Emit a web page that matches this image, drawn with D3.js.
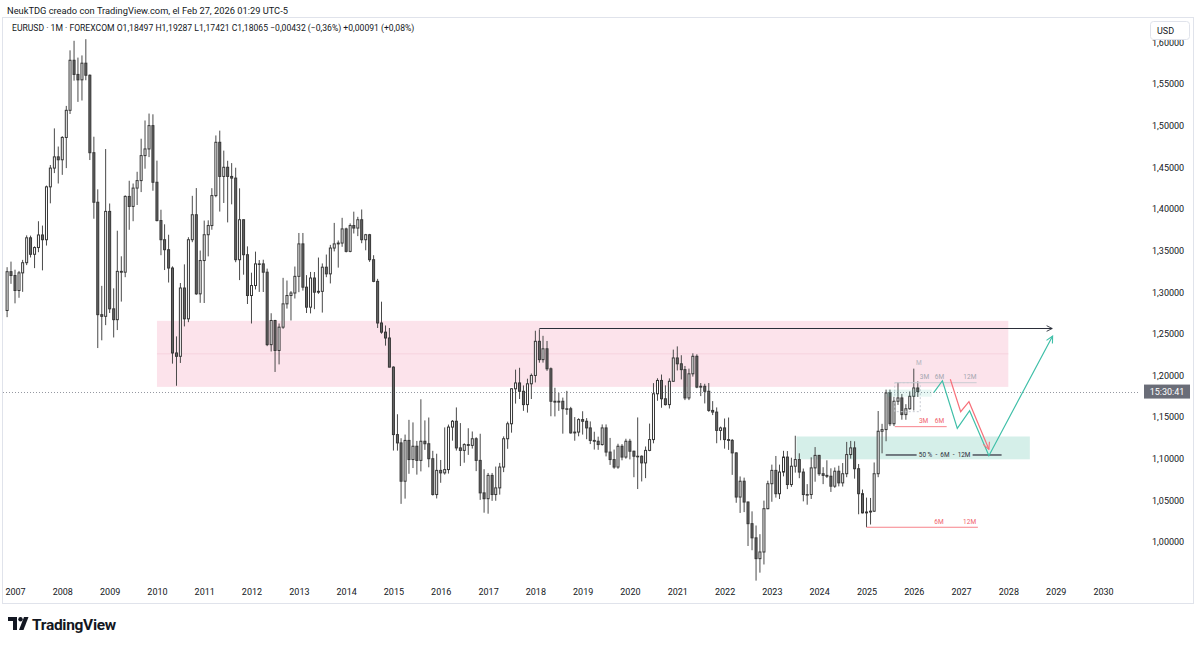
<!DOCTYPE html>
<html>
<head>
<meta charset="utf-8">
<script src="https://cdn.jsdelivr.net/npm/d3@7"></script>
<style>
  body { margin: 0; background: #fff; }
  svg { display: block; font-family: Roboto, "Liberation Sans", sans-serif; }
</style>
</head>
<body>
<script>
// EURUSD mensual, primera vela = nov 2006
var primerMes = [2006, 10]

var opens = [
  1.2780, 1.3246,
  1.3200, 1.3020, 1.3232, 1.3354, 1.3653, 1.3455, 1.3536, 1.3687, 1.3630, 1.4265, 1.4490, 1.4625,
  1.4590, 1.4858, 1.5184, 1.5785, 1.5615, 1.5550, 1.5750, 1.5605, 1.4675, 1.4080, 1.2730, 1.2710,
  1.3970, 1.2800, 1.2670, 1.3250, 1.3240, 1.4150, 1.4030, 1.4250, 1.4340, 1.4640, 1.4720, 1.5000,
  1.4320, 1.3860, 1.3630, 1.3510, 1.3290, 1.2270, 1.2230, 1.3050, 1.2680, 1.3630, 1.3930, 1.2980,
  1.3380, 1.3690, 1.3800, 1.4160, 1.4800, 1.4390, 1.4500, 1.4390, 1.4370, 1.3390, 1.3870, 1.3450,
  1.2960, 1.3080, 1.3340, 1.3340, 1.3240, 1.2370, 1.2660, 1.2300, 1.2580, 1.2860, 1.2960, 1.2990,
  1.3190, 1.3580, 1.3060, 1.2820, 1.3170, 1.3000, 1.3010, 1.3300, 1.3220, 1.3530, 1.3580, 1.3590,
  1.3760, 1.3490, 1.3800, 1.3770, 1.3870, 1.3630, 1.3690, 1.3390, 1.3130, 1.2630, 1.2520, 1.2450,
  1.2100, 1.1290, 1.1190, 1.0730, 1.1220, 1.0990, 1.1150, 1.0980, 1.1210, 1.1180, 1.1000, 1.0570,
  1.0860, 1.0830, 1.0870, 1.1380, 1.1450, 1.1130, 1.1100, 1.1170, 1.1160, 1.1240, 1.0980, 1.0590,
  1.0520, 1.0800, 1.0570, 1.0650, 1.0900, 1.1240, 1.1420, 1.1840, 1.1910, 1.1810, 1.1650, 1.1900,
  1.2000, 1.2410, 1.2190, 1.2320, 1.2080, 1.1690, 1.1680, 1.1690, 1.1600, 1.1600, 1.1310, 1.1320,
  1.1470, 1.1450, 1.1370, 1.1220, 1.1210, 1.1170, 1.1370, 1.1080, 1.0990, 1.0900, 1.1150, 1.1020,
  1.1210, 1.1090, 1.1030, 1.1030, 1.0950, 1.1100, 1.1230, 1.1780, 1.1940, 1.1720, 1.1650, 1.1930,
  1.2210, 1.2140, 1.2070, 1.1730, 1.2020, 1.2230, 1.1860, 1.1870, 1.1810, 1.1580, 1.1560, 1.1340,
  1.1370, 1.1230, 1.1220, 1.1070, 1.0540, 1.0730, 1.0480, 1.0220, 1.0050, 0.9800, 0.9880, 1.0400,
  1.0700, 1.0860, 1.0580, 1.0840, 1.1020, 1.0690, 1.0910, 1.0990, 1.0840, 1.0570, 1.0570, 1.0890,
  1.1040, 1.0820, 1.0800, 1.0790, 1.0670, 1.0850, 1.0710, 1.0820, 1.1050, 1.1130, 1.0880, 1.0580,
  1.0350, 1.0360, 1.0370, 1.0820, 1.1330, 1.1350, 1.1790, 1.1420, 1.1690, 1.1730, 1.1530, 1.1600,
  1.1750, 1.18497
]
var highs = [
  1.3300, 1.3367,
  1.3270, 1.3255, 1.3388, 1.3682, 1.3679, 1.3550, 1.3852, 1.3800, 1.4280, 1.4527, 1.4967, 1.4749,
  1.4874, 1.5237, 1.5904, 1.6019, 1.5817, 1.5843, 1.6038, 1.5615, 1.4867, 1.4235, 1.3076, 1.4719,
  1.4065, 1.3046, 1.3738, 1.3431, 1.4163, 1.4338, 1.4305, 1.4446, 1.4843, 1.5062, 1.5145, 1.5136,
  1.4580, 1.3990, 1.3815, 1.3690, 1.3310, 1.2469, 1.3110, 1.3334, 1.3660, 1.4157, 1.4250, 1.3500,
  1.3860, 1.3863, 1.4249, 1.4882, 1.4940, 1.4700, 1.4578, 1.4550, 1.4495, 1.4247, 1.3873, 1.3550,
  1.3234, 1.3487, 1.3386, 1.3390, 1.3283, 1.2747, 1.2668, 1.2624, 1.3172, 1.3140, 1.3013, 1.3308,
  1.3711, 1.3711, 1.3205, 1.3243, 1.3242, 1.3416, 1.3345, 1.3452, 1.3568, 1.3832, 1.3621, 1.3893,
  1.3775, 1.3826, 1.3967, 1.3905, 1.3993, 1.3700, 1.3700, 1.3444, 1.3160, 1.2886, 1.2600, 1.2570,
  1.2110, 1.1534, 1.1246, 1.1290, 1.1467, 1.1436, 1.1214, 1.1714, 1.1460, 1.1495, 1.1095, 1.1060,
  1.0985, 1.1376, 1.1410, 1.1464, 1.1616, 1.1428, 1.1186, 1.1366, 1.1327, 1.1258, 1.1300, 1.0874,
  1.0829, 1.0829, 1.0906, 1.0950, 1.1268, 1.1445, 1.1847, 1.2070, 1.2092, 1.1880, 1.1961, 1.2023,
  1.2537, 1.2555, 1.2476, 1.2414, 1.2096, 1.1852, 1.1791, 1.1734, 1.1815, 1.1623, 1.1500, 1.1486,
  1.1570, 1.1488, 1.1448, 1.1324, 1.1265, 1.1412, 1.1412, 1.1250, 1.1110, 1.1180, 1.1176, 1.1240,
  1.1239, 1.1097, 1.1496, 1.1040, 1.1147, 1.1422, 1.1908, 1.1966, 1.2011, 1.1881, 1.1965, 1.2310,
  1.2349, 1.2243, 1.2114, 1.2082, 1.2266, 1.2254, 1.1909, 1.1900, 1.1909, 1.1692, 1.1616, 1.1386,
  1.1483, 1.1495, 1.1237, 1.1076, 1.0787, 1.0773, 1.0486, 1.0368, 1.0198, 1.0094, 1.0497, 1.0736,
  1.0929, 1.1033, 1.0929, 1.1095, 1.1092, 1.1012, 1.1276, 1.1065, 1.0882, 1.0695, 1.1017, 1.1140,
  1.1046, 1.0898, 1.0981, 1.0885, 1.0895, 1.0916, 1.0948, 1.1202, 1.1214, 1.1209, 1.0937, 1.0630,
  1.0533, 1.0529, 1.0955, 1.1573, 1.1419, 1.1830, 1.1830, 1.1743, 1.1919, 1.1778, 1.1655, 1.1808,
  1.2082, 1.19287
]
var lows = [
  1.2700, 1.3100,
  1.2866, 1.2933, 1.3004, 1.3325, 1.3417, 1.3289, 1.3480, 1.3262, 1.3560, 1.4067, 1.4430, 1.4305,
  1.4409, 1.4490, 1.5140, 1.5540, 1.5285, 1.5302, 1.5545, 1.4587, 1.3882, 1.2329, 1.2422, 1.2604,
  1.2750, 1.2456, 1.2545, 1.2887, 1.3180, 1.3749, 1.3852, 1.4047, 1.4202, 1.4483, 1.4622, 1.4218,
  1.3850, 1.3444, 1.3266, 1.3116, 1.2142, 1.1876, 1.2150, 1.2589, 1.2640, 1.3600, 1.2968, 1.2872,
  1.2870, 1.3430, 1.3750, 1.4140, 1.3968, 1.4071, 1.3838, 1.4055, 1.3360, 1.3145, 1.3210, 1.2858,
  1.2624, 1.3033, 1.3003, 1.3002, 1.2352, 1.2288, 1.2042, 1.2133, 1.2560, 1.2803, 1.2660, 1.2924,
  1.3000, 1.3019, 1.2750, 1.2745, 1.2796, 1.2980, 1.2755, 1.3180, 1.3105, 1.3490, 1.3295, 1.3545,
  1.3477, 1.3479, 1.3705, 1.3673, 1.3588, 1.3503, 1.3364, 1.3120, 1.2570, 1.2501, 1.2358, 1.2098,
  1.1098, 1.1097, 1.0458, 1.0521, 1.0819, 1.0888, 1.0809, 1.0848, 1.1106, 1.0897, 1.0558, 1.0523,
  1.0711, 1.0809, 1.0822, 1.1217, 1.1098, 1.0912, 1.0952, 1.1046, 1.1122, 1.0851, 1.0506, 1.0352,
  1.0340, 1.0494, 1.0495, 1.0569, 1.0839, 1.1119, 1.1313, 1.1662, 1.1717, 1.1575, 1.1554, 1.1717,
  1.1916, 1.2153, 1.2154, 1.2055, 1.1510, 1.1508, 1.1575, 1.1301, 1.1528, 1.1302, 1.1216, 1.1269,
  1.1290, 1.1234, 1.1176, 1.1110, 1.1107, 1.1158, 1.1028, 1.0926, 1.0879, 1.0879, 1.0981, 1.1000,
  1.0992, 1.0778, 1.0636, 1.0727, 1.0767, 1.1090, 1.1185, 1.1696, 1.1612, 1.1639, 1.1603, 1.1925,
  1.2060, 1.1952, 1.1704, 1.1704, 1.1986, 1.1847, 1.1752, 1.1664, 1.1563, 1.1524, 1.1186, 1.1222,
  1.1121, 1.1106, 1.0806, 1.0471, 1.0349, 1.0359, 0.9952, 0.9901, 0.9536, 0.9632, 0.9730, 1.0393,
  1.0483, 1.0533, 1.0516, 1.0788, 1.0635, 1.0662, 1.0833, 1.0766, 1.0488, 1.0448, 1.0517, 1.0724,
  1.0795, 1.0695, 1.0768, 1.0601, 1.0650, 1.0668, 1.0666, 1.0778, 1.1001, 1.0761, 1.0333, 1.0343,
  1.0178, 1.0210, 1.0360, 1.0778, 1.1065, 1.1210, 1.1392, 1.1392, 1.1646, 1.1469, 1.1468, 1.1589,
  1.1580, 1.17421
]
var closes = [
  1.3246, 1.3200,
  1.3020, 1.3232, 1.3354, 1.3653, 1.3455, 1.3536, 1.3687, 1.3630, 1.4265, 1.4490, 1.4625, 1.4590,
  1.4858, 1.5184, 1.5785, 1.5615, 1.5550, 1.5750, 1.5605, 1.4675, 1.4080, 1.2730, 1.2710, 1.3970,
  1.2800, 1.2670, 1.3250, 1.3240, 1.4150, 1.4030, 1.4250, 1.4340, 1.4640, 1.4720, 1.5000, 1.4320,
  1.3860, 1.3630, 1.3510, 1.3290, 1.2270, 1.2230, 1.3050, 1.2680, 1.3630, 1.3930, 1.2980, 1.3380,
  1.3690, 1.3800, 1.4160, 1.4800, 1.4390, 1.4500, 1.4390, 1.4370, 1.3390, 1.3870, 1.3450, 1.2960,
  1.3080, 1.3340, 1.3340, 1.3240, 1.2370, 1.2660, 1.2300, 1.2580, 1.2860, 1.2960, 1.2990, 1.3190,
  1.3580, 1.3060, 1.2820, 1.3170, 1.3000, 1.3010, 1.3300, 1.3220, 1.3530, 1.3580, 1.3590, 1.3760,
  1.3490, 1.3800, 1.3770, 1.3870, 1.3630, 1.3690, 1.3390, 1.3130, 1.2630, 1.2520, 1.2450, 1.2100,
  1.1290, 1.1190, 1.0730, 1.1220, 1.0990, 1.1150, 1.0980, 1.1210, 1.1180, 1.1000, 1.0570, 1.0860,
  1.0830, 1.0870, 1.1380, 1.1450, 1.1130, 1.1100, 1.1170, 1.1160, 1.1240, 1.0980, 1.0590, 1.0520,
  1.0800, 1.0570, 1.0650, 1.0900, 1.1240, 1.1420, 1.1840, 1.1910, 1.1810, 1.1650, 1.1900, 1.2000,
  1.2410, 1.2190, 1.2320, 1.2080, 1.1690, 1.1680, 1.1690, 1.1600, 1.1600, 1.1310, 1.1320, 1.1470,
  1.1450, 1.1370, 1.1220, 1.1210, 1.1170, 1.1370, 1.1080, 1.0990, 1.0900, 1.1150, 1.1020, 1.1210,
  1.1090, 1.1030, 1.1030, 1.0950, 1.1100, 1.1230, 1.1780, 1.1940, 1.1720, 1.1650, 1.1930, 1.2210,
  1.2140, 1.2070, 1.1730, 1.2020, 1.2230, 1.1860, 1.1870, 1.1810, 1.1580, 1.1560, 1.1340, 1.1370,
  1.1230, 1.1220, 1.1070, 1.0540, 1.0730, 1.0480, 1.0220, 1.0050, 0.9800, 0.9880, 1.0400, 1.0700,
  1.0860, 1.0580, 1.0840, 1.1020, 1.0690, 1.0910, 1.0990, 1.0840, 1.0570, 1.0570, 1.0890, 1.1040,
  1.0820, 1.0800, 1.0790, 1.0670, 1.0850, 1.0710, 1.0820, 1.1050, 1.1130, 1.0880, 1.0580, 1.0350,
  1.0360, 1.0370, 1.0820, 1.1330, 1.1350, 1.1790, 1.1420, 1.1690, 1.1730, 1.1530, 1.1600, 1.1750,
  1.1850, 1.18065
]

var precioActual = 1.18065
var priceTicks = [1.00, 1.05, 1.10, 1.15, 1.20, 1.25, 1.30, 1.35, 1.40, 1.45, 1.50, 1.55, 1.60]
var yearTicks = [2007, 2008, 2009, 2010, 2011, 2012, 2013, 2014, 2015, 2016, 2017, 2018,
  2019, 2020, 2021, 2022, 2023, 2024, 2025, 2026, 2027, 2028, 2029, 2030]

// zonas [desde, hasta, precio alto, precio bajo]
var zonaRosa = ["2010-01-01", "2028-01-01", 1.2656, 1.1863]
var zonaVerde = ["2023-07-10", "2028-06-15", 1.1267, 1.0993]

// proyecciones [fecha, precio]
var rutaVerde = [["2026-06-04", 1.1793], ["2026-08-10", 1.1937], ["2026-12-03", 1.1365],
  ["2027-03-08", 1.1577], ["2027-08-04", 1.1036], ["2028-12-08", 1.2474]]
var rutaRoja = [["2026-10-10", 1.1954], ["2026-12-29", 1.1565], ["2027-03-03", 1.1685],
  ["2027-08-04", 1.1113]]
var flechaNegra = [["2018-02-01", 1.2555], ["2028-12-05", 1.2555]]

// niveles [desde, hasta, precio, color, etiquetas [fecha, texto]]
var niveles = [
  ["2025-08-07", "2027-05-01", 1.1913, "#c9ccd3", [["2026-03-25", "3M"], ["2026-07-18", "6M"], ["2027-03-10", "12M"]]],
  ["2025-08-07", "2026-09-12", 1.1385, "#f7838b", [["2026-03-18", "3M"], ["2026-07-18", "6M"]]],
  ["2025-01-01", "2027-05-11", 1.0177, "#f7838b", [["2026-07-14", "6M"], ["2027-03-08", "12M"]]]
]
var nivel50 = ["2025-05-29", "2027-11-10", 1.1045, "50 %  -  6M  -  12M", "2026-08-27"]

var width = 1200
var height = 645
var parseF = d3.timeParse("%Y-%m-%d")

var datos = opens.map(function(o, i) {
  return { fecha: new Date(primerMes[0], primerMes[1] + i, 1), o: o, h: highs[i], l: lows[i], c: closes[i] }
})

var escalaX = d3.scaleTime()
  .domain([new Date(2007, 0, 1), new Date(2030, 0, 1)])
  .range([15, 1103])

var escalaY = d3.scaleLinear()
  .domain([1.0, 1.55])
  .range([542, 84])

var elementoSVG = d3.select("body")
  .append("svg")
  .attr("width", width)
  .attr("height", height)

elementoSVG.append("defs").append("clipPath").attr("id", "zona")
  .append("rect").attr("x", 3).attr("y", 18).attr("width", 1137).attr("height", 566)

elementoSVG.append("defs").append("marker")
  .attr("id", "punta").attr("viewBox", "0 0 10 10").attr("refX", 9).attr("refY", 5)
  .attr("markerWidth", 7).attr("markerHeight", 7).attr("orient", "auto")
  .append("path").attr("d", "M1,1 L9,5 L1,9").attr("fill", "none").attr("stroke", "context-stroke")
  .attr("stroke-width", 1.3)

// cabecera
elementoSVG.append("text")
  .attr("x", 7).attr("y", 14)
  .attr("font-size", 9.3).attr("fill", "#131722")
  .text("NeukTDG creado con TradingView.com, el Feb 27, 2026 01:29 UTC-5")

elementoSVG.append("rect")
  .attr("x", 2.5).attr("y", 17.5).attr("width", 1191).attr("height", 586)
  .attr("fill", "none").attr("stroke", "#e0e3eb")

elementoSVG.append("text")
  .attr("x", 12).attr("y", 31)
  .attr("font-size", 8.6).attr("fill", "#131722")
  .text("EURUSD · 1M · FOREXCOM  O1,18497  H1,19287  L1,17421  C1,18065  −0,00432 (−0,36%)  +0,00091 (+0,08%)")

var plot = elementoSVG.append("g").attr("clip-path", "url(#zona)")

// zonas
plot.append("rect")
  .attr("x", escalaX(parseF(zonaRosa[0])))
  .attr("y", escalaY(zonaRosa[2]))
  .attr("width", escalaX(parseF(zonaRosa[1])) - escalaX(parseF(zonaRosa[0])))
  .attr("height", escalaY(zonaRosa[3]) - escalaY(zonaRosa[2]))
  .attr("fill", "#fce3eb")

plot.append("line")
  .attr("x1", escalaX(parseF(zonaRosa[0]))).attr("x2", escalaX(parseF(zonaRosa[1])))
  .attr("y1", escalaY((zonaRosa[2] + zonaRosa[3]) / 2)).attr("y2", escalaY((zonaRosa[2] + zonaRosa[3]) / 2))
  .attr("stroke", "#f6d3de").attr("stroke-width", 1)

plot.append("rect")
  .attr("x", escalaX(parseF(zonaVerde[0])))
  .attr("y", escalaY(zonaVerde[2]))
  .attr("width", escalaX(parseF(zonaVerde[1])) - escalaX(parseF(zonaVerde[0])))
  .attr("height", escalaY(zonaVerde[3]) - escalaY(zonaVerde[2]))
  .attr("fill", "#d5efe9")

// precio actual
plot.append("line")
  .attr("x1", 3).attr("x2", 1140)
  .attr("y1", Math.round(escalaY(precioActual)) + 0.5).attr("y2", Math.round(escalaY(precioActual)) + 0.5)
  .attr("stroke", "#9598a1").attr("stroke-dasharray", "1,2")

// flecha negra
plot.append("path")
  .datum(flechaNegra)
  .attr("fill", "none").attr("stroke", "#2a2e39").attr("stroke-width", 1)
  .attr("marker-end", "url(#punta)")
  .attr("d", d3.line().x(d => escalaX(parseF(d[0]))).y(d => Math.round(escalaY(d[1])) - 0.5))

// velas
var velas = plot.append("g").selectAll("g").data(datos).enter().append("g")

velas.append("line")
  .attr("x1", d => escalaX(d.fecha)).attr("x2", d => escalaX(d.fecha))
  .attr("y1", d => escalaY(d.h)).attr("y2", d => escalaY(d.l))
  .attr("stroke", "#4a4a4a").attr("stroke-width", 1)

velas.append("rect")
  .attr("x", d => escalaX(d.fecha) - 1)
  .attr("width", 2)
  .attr("y", d => escalaY(Math.max(d.o, d.c)))
  .attr("height", d => Math.max(0.6, escalaY(Math.min(d.o, d.c)) - escalaY(Math.max(d.o, d.c))))
  .attr("fill", d => d.c >= d.o ? "#ffffff" : "#666666")
  .attr("stroke", "#363636").attr("stroke-width", 1)

// marco punteado sobre las ultimas velas
plot.append("rect")
  .attr("x", escalaX(parseF("2025-08-07"))).attr("y", escalaY(1.1913))
  .attr("width", escalaX(parseF("2026-02-20")) - escalaX(parseF("2025-08-07")))
  .attr("height", escalaY(1.1565) - escalaY(1.1913))
  .attr("fill", "none").attr("stroke", "#c9ccd3").attr("stroke-dasharray", "2,2")

plot.append("rect")
  .attr("x", escalaX(parseF("2025-06-10"))).attr("y", escalaY(1.1830))
  .attr("width", escalaX(parseF("2026-05-20")) - escalaX(parseF("2025-06-10")))
  .attr("height", escalaY(1.1745) - escalaY(1.1830))
  .attr("fill", "#3fbfa8").attr("opacity", 0.12)

plot.append("text")
  .attr("x", escalaX(parseF("2026-02-10"))).attr("y", escalaY(1.2130))
  .attr("text-anchor", "middle").attr("font-size", 6.5).attr("fill", "#b2b5be")
  .text("M")

// niveles
niveles.forEach(function(n) {
  plot.append("line")
    .attr("x1", escalaX(parseF(n[0]))).attr("x2", escalaX(parseF(n[1])))
    .attr("y1", escalaY(n[2])).attr("y2", escalaY(n[2]))
    .attr("stroke", n[3]).attr("stroke-width", 1)
  n[4].forEach(function(e) {
    plot.append("text")
      .attr("x", escalaX(parseF(e[0]))).attr("y", escalaY(n[2]) - 3.5)
      .attr("text-anchor", "middle").attr("font-size", 6.5)
      .attr("fill", n[3] == "#c9ccd3" ? "#a3a6af" : "#f0606b")
      .text(e[1])
  })
})

// nivel 50 %
var x50a = escalaX(parseF(nivel50[0]))
var x50b = escalaX(parseF(nivel50[1]))
var x50c = escalaX(parseF(nivel50[4]))
plot.append("line")
  .attr("x1", x50a).attr("x2", x50c - 28)
  .attr("y1", escalaY(nivel50[2])).attr("y2", escalaY(nivel50[2]))
  .attr("stroke", "#50535e").attr("stroke-width", 1.5)
plot.append("line")
  .attr("x1", x50c + 28).attr("x2", x50b)
  .attr("y1", escalaY(nivel50[2])).attr("y2", escalaY(nivel50[2]))
  .attr("stroke", "#50535e").attr("stroke-width", 1.5)
plot.append("text")
  .attr("x", x50c).attr("y", escalaY(nivel50[2]) + 2.3)
  .attr("text-anchor", "middle").attr("font-size", 6.4).attr("fill", "#2a2e39")
  .attr("xml:space", "preserve")
  .text(nivel50[3])

// rutas proyectadas
plot.append("path")
  .datum(rutaVerde)
  .attr("fill", "none").attr("stroke", "#3fbfa8").attr("stroke-width", 1.2)
  .attr("marker-end", "url(#punta)")
  .attr("d", d3.line().x(d => escalaX(parseF(d[0]))).y(d => escalaY(d[1])))

plot.append("path")
  .datum(rutaRoja)
  .attr("fill", "none").attr("stroke", "#f7707a").attr("stroke-width", 1.2)
  .attr("marker-end", "url(#punta)")
  .attr("d", d3.line().x(d => escalaX(parseF(d[0]))).y(d => escalaY(d[1])))

// eje de precios
var ejeY = d3.axisRight(escalaY)
  .tickValues(priceTicks)
  .tickSize(0).tickPadding(0)
  .tickFormat(d => d3.format(".5f")(d).replace(".", ","))

elementoSVG.append("g")
  .attr("transform", "translate(1152,0)")
  .call(ejeY)
  .call(g => g.select(".domain").remove())
  .call(g => g.selectAll("text").attr("font-size", 9).attr("fill", "#131722").attr("font-family", "Roboto, sans-serif"))

// etiqueta USD
elementoSVG.append("rect")
  .attr("x", 1150.5).attr("y", 21.5).attr("width", 39).attr("height", 18).attr("rx", 3)
  .attr("fill", "#fff").attr("stroke", "#e0e3eb")
elementoSVG.append("text")
  .attr("x", 1157).attr("y", 34).attr("font-size", 9).attr("fill", "#131722").text("USD")

// contador
elementoSVG.append("rect")
  .attr("x", 1144).attr("y", escalaY(precioActual) - 7).attr("width", 46).attr("height", 14)
  .attr("fill", "#6a6d78")
elementoSVG.append("text")
  .attr("x", 1167).attr("y", escalaY(precioActual) + 3.2)
  .attr("text-anchor", "middle").attr("font-size", 9).attr("fill", "#fff")
  .text("15:30:41")

// eje de tiempo
var ejeX = d3.axisBottom(escalaX)
  .tickValues(yearTicks.map(a => new Date(a, 0, 1)))
  .tickSize(0).tickPadding(4)
  .tickFormat(d3.timeFormat("%Y"))

elementoSVG.append("g")
  .attr("transform", "translate(0,585)")
  .call(ejeX)
  .call(g => g.select(".domain").remove())
  .call(g => g.selectAll("text").attr("font-size", 9).attr("fill", "#131722").attr("font-family", "Roboto, sans-serif"))

// logo TradingView
var logo = elementoSVG.append("g").attr("transform", "translate(8,617)")
logo.append("path").attr("d", "M0,0 H9 V13 H5 V4 H0 Z").attr("fill", "#131722")
logo.append("circle").attr("cx", 12.5).attr("cy", 2.2).attr("r", 2.2).attr("fill", "#131722")
logo.append("path").attr("d", "M16,0 H20.5 L15.5,13 H11 Z").attr("fill", "#131722")
elementoSVG.append("text")
  .attr("x", 32).attr("y", 630)
  .attr("font-size", 15.5).attr("font-weight", "bold").attr("fill", "#131722")
  .attr("letter-spacing", -0.3)
  .text("TradingView")
</script>
</body>
</html>
